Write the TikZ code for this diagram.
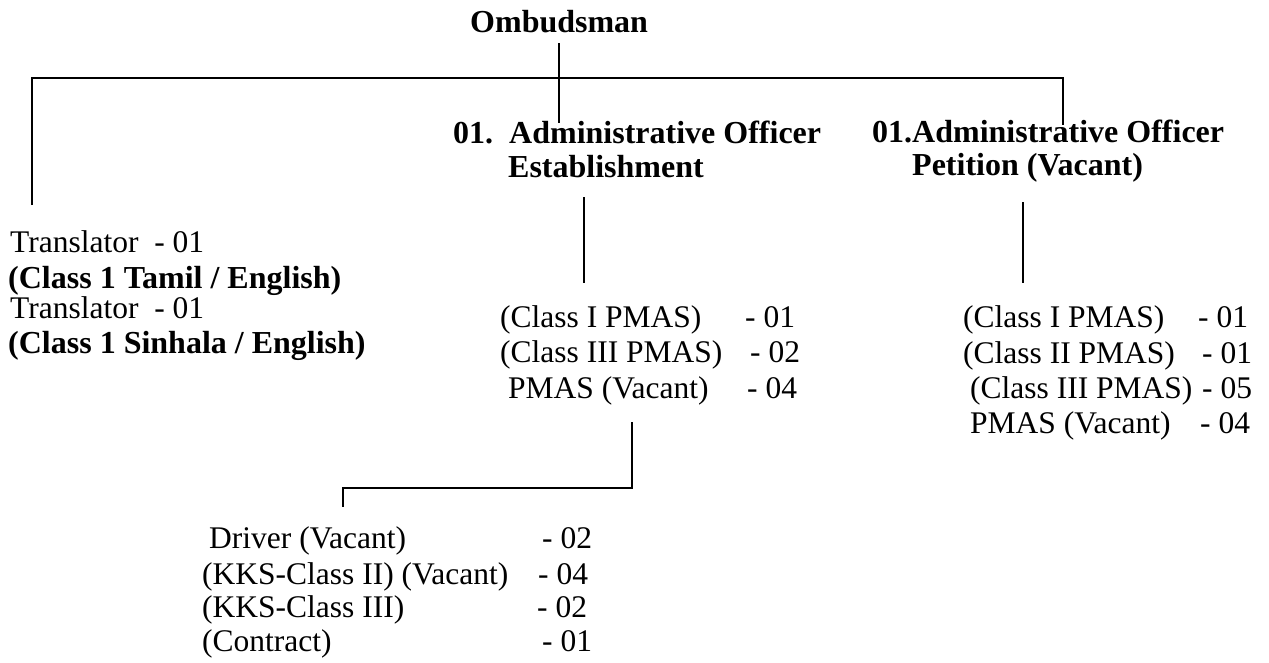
\documentclass[tikz,border=0pt]{standalone}
\usepackage{fontspec}
\setmainfont{Liberation Serif}
\tikzset{
  txt/.style={anchor=base west, inner sep=0pt, font=\fontsize{31.5}{36}\selectfont},
  btxt/.style={anchor=base west, inner sep=0pt, font=\fontsize{32}{36}\selectfont\bfseries},
  conn/.style={line width=2.2pt, line cap=butt, line join=miter},
}
\begin{document}
\begin{tikzpicture}[x=1pt,y=-1pt]
\useasboundingbox (0,0) rectangle (1269,662);

% top
\node[btxt] (om) at (470,32) {Ombudsman};

% headings
\node[btxt] (estA) at (453,143) {01.\ \ Administrative Officer};
\node[btxt] (estB) at (508,177) {Establishment};
\node[btxt] (petA) at (872,142) {01.Administrative Officer};
\node[btxt] (petB) at (912,175) {Petition (Vacant)};

% left column
\node[txt]  (tr1) at (10,252) {Translator\ \ - 01};
\node[btxt] (ta)  at (8,288)  {(Class 1 Tamil / English)};
\node[txt]  (tr2) at (10,318) {Translator\ \ - 01};
\node[btxt] (si)  at (8,353)  {(Class 1 Sinhala / English)};

% middle list
\node[txt] (m1) at (500,327) {(Class I PMAS)};
\node[txt] (m1n) at (745,327) {- 01};
\node[txt] (m2) at (500,362) {(Class III PMAS)};
\node[txt] (m2n) at (750,362) {- 02};
\node[txt] (m3) at (508,398) {PMAS (Vacant)};
\node[txt] (m3n) at (747,398) {- 04};

% right list
\node[txt] (r1) at (963,327) {(Class I PMAS)};
\node[txt] (r1n) at (1198,327) {- 01};
\node[txt] (r2) at (963,363) {(Class II PMAS)};
\node[txt] (r2n) at (1202,363) {- 01};
\node[txt] (r3) at (970,398) {(Class III PMAS)};
\node[txt] (r3n) at (1202,398) {- 05};
\node[txt] (r4) at (970,433) {PMAS (Vacant)};
\node[txt] (r4n) at (1200,433) {- 04};

% bottom list
\node[txt] (b1) at (209,548) {Driver (Vacant)};
\node[txt] (b1n) at (542,548) {- 02};
\node[txt] (b2) at (202,584) {(KKS-Class II) (Vacant)};
\node[txt] (b2n) at (538,584) {- 04};
\node[txt] (b3) at (202,617) {(KKS-Class III)};
\node[txt] (b3n) at (537,617) {- 02};
\node[txt] (b4) at (202,651) {(Contract)};
\node[txt] (b4n) at (542,651) {- 01};

% connector points
\coordinate (omTop) at (559,43);
\coordinate (omBot) at (559,123);
\coordinate (barL) at (32,78);
\coordinate (barR) at (1063,78);
\coordinate (trTop) at (32,205);
\coordinate (petTop) at (1063,125);
\coordinate (estLineT) at (584,197);
\coordinate (estLineB) at (584,283);
\coordinate (petLineT) at (1023,202);
\coordinate (petLineB) at (1023,283);
\coordinate (pmT) at (632,422);
\coordinate (pmC) at (632,488);
\coordinate (drC) at (343,488);
\coordinate (drB) at (343,507);

\draw[conn] (omTop) -- (omBot);
\draw[conn] (trTop) -- (barL) -- (barR) -- (petTop);
\draw[conn] (estLineT) -- (estLineB);
\draw[conn] (petLineT) -- (petLineB);
\draw[conn] (pmT) -- (pmC) -- (drC) -- (drB);
\end{tikzpicture}
\end{document}
